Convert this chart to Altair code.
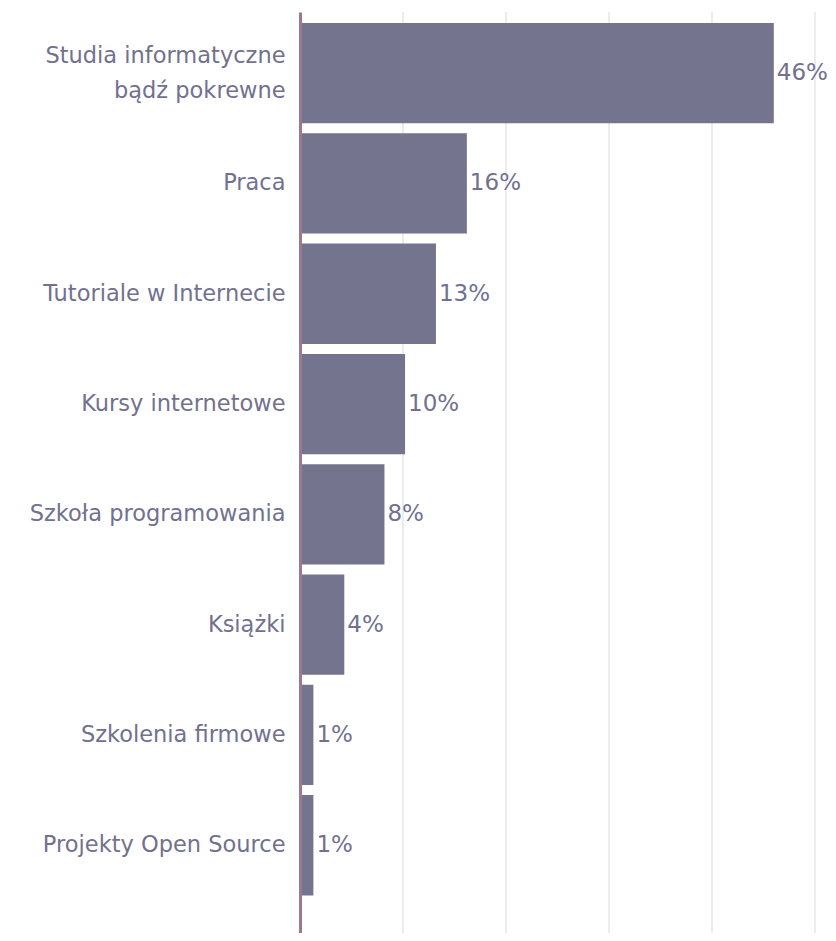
import altair as alt
import pandas as pd

categories = ["Studia informatyczne|bądź pokrewne", "Praca", "Tutoriale w Internecie",
              "Kursy internetowe", "Szkoła programowania", "Książki",
              "Szkolenia firmowe", "Projekty Open Source"]
values = [46.0, 16.2, 13.2, 10.2, 8.2, 4.3, 1.3, 1.3]
labels = ["46%", "16%", "13%", "10%", "8%", "4%", "1%", "1%"]
grid_values = [10, 20, 30, 40, 50]

df = pd.DataFrame({"cat": categories, "val": values, "lab": labels})
gdf = pd.DataFrame({"g": grid_values})

FONT = "DejaVu Sans"
TEXT = "#71718f"
BAR = "#74748f"

xscale = alt.Scale(domain=[0, 50], nice=False)
yscale = alt.Scale(paddingInner=0.0907, paddingOuter=0.2203, align=0.226)

y = alt.Y("cat:N", sort=categories, title=None, scale=yscale,
          axis=alt.Axis(labelExpr="split(datum.label, '|')", labelFont=FONT,
                        labelFontSize=22.5, labelColor=TEXT, labelPadding=15,
                        labelLineHeight=35, ticks=False, domainColor="#9a7a90",
                        domainWidth=3, zindex=1,
                        labelOffset={"condition": {"test": "indexof(datum.value, '|') >= 0",
                                                   "value": -17}, "value": 0},
                        labelLimit=400))

grid = alt.Chart(gdf).mark_rule(color="#e6e6e6", strokeWidth=1.5).encode(
    x=alt.X("g:Q", scale=xscale, axis=None))
bars = alt.Chart(df).mark_bar(color=BAR).encode(
    x=alt.X("val:Q", scale=xscale, axis=None, title=None), y=y)
text = alt.Chart(df).mark_text(align="left", baseline="middle", dx=3, font=FONT,
                               fontSize=23, color=TEXT).encode(
    x="val:Q", y=alt.Y("cat:N", sort=categories), text="lab:N")

chart = (grid + bars + text).properties(
    width=515, height=921,
    autosize=alt.AutoSizeParams(type="none"),
    padding={"left": 292, "top": 4, "right": 13, "bottom": 0},
).configure_view(stroke=None)

chart.save("out.html", embed_options={"renderer": "svg", "actions": False})
